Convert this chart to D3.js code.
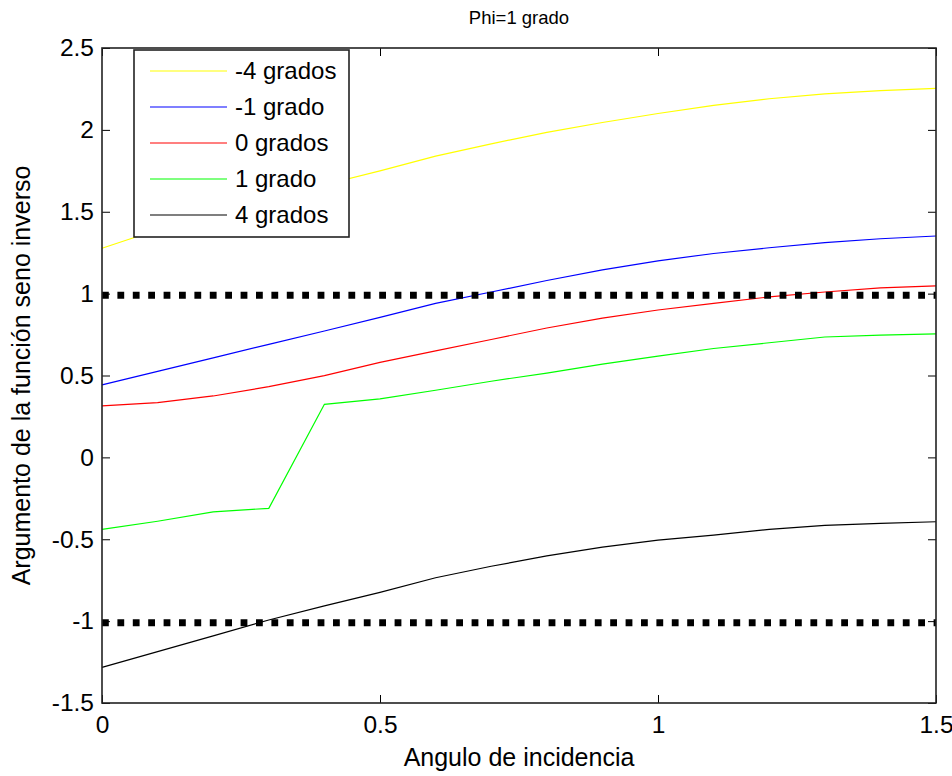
<!DOCTYPE html>
<html>
<head>
<meta charset="utf-8">
<script src="https://cdn.jsdelivr.net/npm/d3@7"></script>
<style>
  html, body { margin: 0; padding: 0; background: #fff; }
  svg { display: block; font-family: "Liberation Sans", Arial, sans-serif; }
</style>
</head>
<body>
<svg id="chart" width="952" height="776"></svg>
<script>
// Angle of incidence samples
const angles = [0, 0.1, 0.2, 0.3, 0.4, 0.5, 0.6, 0.7, 0.8, 0.9, 1.0, 1.1, 1.2, 1.3, 1.4, 1.5];

// Argument of the inverse sine, one array per tilt
const menos4 = [1.277, 1.39, 1.49, 1.578, 1.665, 1.75, 1.84, 1.915, 1.985, 2.045, 2.10, 2.15, 2.19, 2.22, 2.24, 2.254];
const menos1 = [0.443, 0.525, 0.608, 0.69, 0.772, 0.855, 0.94, 1.01, 1.08, 1.145, 1.20, 1.245, 1.28, 1.312, 1.335, 1.352];
const cero   = [0.314, 0.334, 0.375, 0.432, 0.499, 0.58, 0.65, 0.72, 0.79, 0.85, 0.90, 0.94, 0.98, 1.01, 1.035, 1.047];
const uno    = [-0.44, -0.39, -0.333, -0.311, 0.324, 0.357, 0.41, 0.465, 0.515, 0.57, 0.618, 0.665, 0.70, 0.735, 0.747, 0.754];
const cuatro = [-1.282, -1.186, -1.09, -0.993, -0.907, -0.824, -0.735, -0.665, -0.602, -0.548, -0.505, -0.475, -0.44, -0.415, -0.403, -0.393];

const seriesNames  = ["-4 grados", "-1 grado", "0 grados", "1 grado", "4 grados"];
const seriesValues = [menos4, menos1, cero, uno, cuatro];
const seriesColors = ["#ffff00", "#0000ff", "#ff0000", "#00ff00", "#000000"];

// Domain limits of the inverse sine
const limits = [1, -1];

const xTicks = [0, 0.5, 1, 1.5];
const yTicks = [-1.5, -1, -0.5, 0, 0.5, 1, 1.5, 2, 2.5];

const svg = d3.select("#chart");
const plotL = 102, plotR = 936, plotT = 48, plotB = 703;
const tickFont = "24.5px";
const labelFont = "25px";

const x = d3.scaleLinear().domain([0, 1.5]).range([plotL, plotR]);
const y = d3.scaleLinear().domain([-1.5, 2.5]).range([plotB, plotT]);

const fmt = d => String(d);

// Data curves
const line = d3.line().x((d, i) => x(angles[i])).y(d => y(d));
seriesValues.forEach((vals, k) => {
  svg.append("path")
    .attr("d", line(vals))
    .attr("fill", "none")
    .attr("stroke", seriesColors[k])
    .attr("stroke-width", 1.2);
});

// Thick dotted limit lines
limits.forEach(v => {
  svg.append("line")
    .attr("x1", x(0)).attr("x2", x(1.5))
    .attr("y1", y(v) + 1.5).attr("y2", y(v) + 1.5)
    .attr("stroke", "#000")
    .attr("stroke-width", 7)
    .attr("stroke-dasharray", "6.8 8.6");
});

// Axes: ticks pointing inward on all four sides
const tickLen = 8;
svg.append("g").attr("transform", `translate(0,${plotB})`)
  .call(d3.axisBottom(x).tickValues(xTicks).tickFormat(fmt).tickSize(-tickLen).tickPadding(13))
  .call(g => g.select(".domain").remove());
svg.append("g").attr("transform", `translate(0,${plotT})`)
  .call(d3.axisTop(x).tickValues(xTicks).tickFormat("").tickSize(-tickLen))
  .call(g => g.select(".domain").remove());
svg.append("g").attr("transform", `translate(${plotL},0)`)
  .call(d3.axisLeft(y).tickValues(yTicks).tickFormat(fmt).tickSize(-tickLen).tickPadding(8))
  .call(g => g.select(".domain").remove());
svg.append("g").attr("transform", `translate(${plotR},0)`)
  .call(d3.axisRight(y).tickValues(yTicks).tickFormat("").tickSize(-tickLen))
  .call(g => g.select(".domain").remove());

svg.selectAll(".tick line").attr("stroke", "#000").attr("stroke-width", 1);
svg.selectAll(".tick text")
  .attr("fill", "#000")
  .style("font-size", tickFont)
  .style("font-family", "'Liberation Sans', Arial, sans-serif");

// Axes box
svg.append("rect")
  .attr("x", plotL).attr("y", plotT)
  .attr("width", plotR - plotL).attr("height", plotB - plotT)
  .attr("fill", "none").attr("stroke", "#222").attr("stroke-width", 1.6);

// Title and axis labels
svg.append("text").attr("x", (plotL + plotR) / 2).attr("y", 24)
  .attr("text-anchor", "middle").style("font-size", "18.5px").text("Phi=1 grado");
svg.append("text").attr("x", (plotL + plotR) / 2).attr("y", 766)
  .attr("text-anchor", "middle").style("font-size", labelFont).text("Angulo de incidencia");
svg.append("text")
  .attr("transform", `translate(30,${(plotT + plotB) / 2}) rotate(-90)`)
  .attr("text-anchor", "middle").style("font-size", labelFont)
  .text("Argumento de la función seno inverso");

// Legend
const legend = svg.append("g");
legend.append("rect")
  .attr("x", 134).attr("y", 50).attr("width", 215).attr("height", 187)
  .attr("fill", "#fff").attr("stroke", "#222").attr("stroke-width", 1.6);
seriesNames.forEach((name, k) => {
  const cy = 71 + k * 36;
  legend.append("line")
    .attr("x1", 150).attr("x2", 227).attr("y1", cy).attr("y2", cy)
    .attr("stroke", seriesColors[k]).attr("stroke-width", 1.2);
  legend.append("text")
    .attr("x", 235).attr("y", cy + 8)
    .style("font-size", "24px").text(name);
});
</script>
</body>
</html>
